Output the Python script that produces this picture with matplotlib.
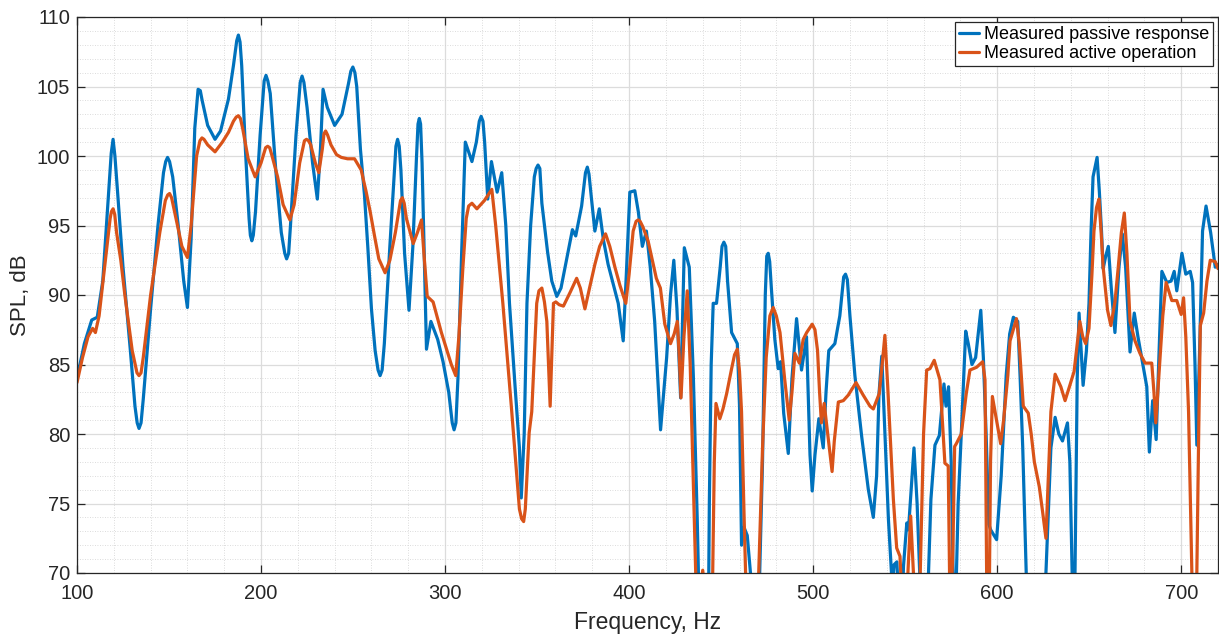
import matplotlib
matplotlib.use("Agg")
import matplotlib.pyplot as plt
import numpy as np
from matplotlib.ticker import MultipleLocator

plt.rcParams['font.family'] = ['Liberation Sans', 'DejaVu Sans']

passive_f = [100, 104, 108, 111, 114, 117, 119.6, 122, 125, 129, 131.5, 133.7, 136, 140, 144, 147, 149.2,
             152, 155, 158, 160, 162, 164, 165.8, 168, 171, 175, 178, 182.3, 185, 187.7, 189.5, 191.5,
             193.5, 195, 197, 199.5, 202.7, 205, 208, 211, 213.9, 216, 219, 222.3, 225, 228, 230.6,
             232.3, 233.7, 236, 240, 244, 247.5, 249.9, 252, 254, 256.2, 258, 260, 262, 264.7, 267, 270,
             272.5, 274.2, 276, 278, 280.4, 282.5, 284.5, 286, 287.5, 289, 289.9, 292.3, 296, 298.9, 302,
             304.9, 307, 309, 311, 314.6, 317, 319.6, 321.5, 323.2, 325.2, 328.3, 330.8, 333, 335, 338,
             340.4, 341.4, 343, 344.5, 346.5, 348.5, 350.5, 352.6, 355.7, 358, 360.7, 363, 365.2, 369.2,
             371, 374.2, 377.3, 379.5, 381.4, 383.8, 386, 388.6, 394.1, 396.8, 398.5, 400.4, 403.1, 405,
             407.2, 409.4, 411.5, 413.9, 417.1, 420.4, 422.5, 424.3, 426, 428, 429, 430, 432.7, 434.9, 437,
             438.5, 443, 443.6, 444.6, 445.7, 447.5, 449.5, 451.5, 453.5, 455.7, 458.8, 460, 461.1, 462.4,
             464.2, 466.6, 470, 472.5, 474, 475.6, 477.3, 479.2, 481, 482.3, 484, 486.5, 488.5, 491, 493.7,
             496.4, 498.3, 499.5, 501, 503.1, 505.5, 507, 508.5, 511.8, 514.5, 517.6, 520, 522.7, 526.4,
             530, 532.7, 534.5, 535.8, 537.3, 539, 540.9, 543, 544, 545.5, 546.5, 548, 549.1, 550.9, 551.8,
             553.5, 554.8, 556.5, 558.2, 560, 562.7, 564, 566.2, 568.6, 571.1, 572.2, 573.6, 575, 576.2, 577.5,
             578.8, 580.5, 582.9, 584.3, 586.3, 588.3, 591.1, 592.5, 594, 595.5, 596.5, 599.7, 602.2, 604.9,
             606.8, 608.8, 611.2, 612.5, 613.9, 616, 618, 625, 626.5, 629.2, 631.5, 633.5, 635.5, 638.2,
             639.5, 640.9, 642.3, 643.5, 644.5, 646.7, 648.5, 649.9, 651, 652.1, 654.3, 655.5, 656.7, 657.6,
             659, 660.4, 662, 664, 666.2, 668, 669.8, 672.2, 674.5, 676.5, 678.5, 681.3, 682.7, 684.5,
             686.4, 688, 689.5, 692.2, 694.5, 696.2, 697.6, 700.4, 702.5, 704.9, 706.2, 707.5, 708.5, 710,
             711.6, 713.5, 716, 718.5, 720,
             # extra readings around rounded peaks and troughs
             118.6, 120.6, 132.7, 134.8, 148.2, 150.3, 167.0, 186.8, 188.6, 194.2, 195.8, 201.7, 203.7,
             212.9, 215.0, 221.3, 223.3, 248.8, 251.0, 263.6, 265.8, 273.3, 275.1, 285.3, 286.7, 303.9,
             305.9, 318.6, 320.6, 349.5, 351.5, 376.3, 378.2, 450.5, 452.5, 474.8, 476.4, 516.6, 518.6]
passive_spl = [84.0, 86.5, 88.2, 88.4, 91.0, 97.0, 101.2, 97.5, 92.0, 86.0, 82.0, 80.4, 82.5, 89.0, 95.0, 98.8, 99.9,
               98.5, 95.0, 91.0, 89.1, 94.0, 102.0, 104.8, 104.0, 102.2, 101.2, 101.8, 104.1, 106.5, 108.7, 106.5, 100.5,
               95.5, 93.9, 96.0, 101.5, 105.8, 104.5, 99.0, 94.5, 92.6, 95.0, 101.5, 105.75, 103.5, 99.5, 96.9,
               100.5, 104.8, 103.5, 102.2, 103.0, 105.2, 106.4, 105.0, 100.5, 97.2, 93.5, 89.0, 86.0, 84.2, 86.5, 93.5,
               99.0, 101.2, 99.0, 93.0, 88.9, 93.5, 100.0, 102.7, 99.5, 91.0, 86.1, 88.1, 86.8, 85.2, 83.0,
               80.3, 84.0, 93.0, 101.0, 99.6, 101.0, 102.85, 101.0, 96.9, 99.6, 97.4, 98.8, 95.0, 89.4, 83.5,
               79.0, 75.4, 80.0, 89.4, 95.0, 98.5, 99.35, 96.6, 93.1, 91.0, 89.9, 90.5, 92.0, 94.7,
               94.25, 96.4, 99.2, 97.0, 94.6, 96.2, 94.0, 92.2, 89.4, 86.7, 91.5, 97.4, 97.5, 96.0,
               93.5, 94.6, 92.0, 88.1, 80.3, 85.5, 90.0, 92.5, 89.0, 82.6, 88.0, 93.4, 92.0, 84.2, 74.0,
               65.0, 65.0, 75.0, 85.0, 89.4, 89.4, 92.0, 93.8, 91.0, 87.3, 86.5, 82.0, 72.0, 73.3,
               72.7, 69.0, 65.0, 78.0, 90.0, 93.0, 90.5, 86.8, 84.7, 85.2, 81.5, 78.6, 84.0, 88.3, 84.6,
               87.0, 78.5, 75.9, 78.5, 81.1, 79.0, 83.0, 86.0, 86.5, 88.5, 91.5, 88.5, 84.2, 79.8,
               76.0, 74.0, 77.0, 82.9, 85.6, 80.0, 73.9, 69.0, 70.6, 70.8, 68.0, 66.0, 70.5, 73.6, 73.1,
               76.5, 79.0, 75.0, 69.0, 64.0, 70.0, 75.3, 79.2, 79.9, 83.6, 82.0, 83.4, 78.0, 69.0, 68.0,
               75.0, 80.0, 87.4, 86.5, 85.0, 85.5, 88.9, 85.5, 80.0, 73.5, 73.1, 72.4, 77.0, 84.2,
               87.2, 88.4, 88.1, 84.0, 79.0, 69.0, 64.0, 64.0, 70.0, 79.0, 81.2, 80.0, 79.5, 80.8,
               78.0, 69.0, 70.0, 84.0, 88.7, 83.5, 86.0, 89.4, 94.5, 98.5, 99.9, 97.5, 94.6, 91.9,
               92.8, 93.5, 90.5, 87.3, 92.0, 94.4, 92.0, 85.9, 88.7, 87.0, 85.5, 83.4, 78.7, 82.4,
               79.6, 86.0, 91.7, 90.9, 91.0, 91.7, 90.3, 93.0, 91.5, 91.7, 90.9, 85.0, 79.2, 86.0,
               94.6, 96.4, 94.5, 92.0, 92.2,
               100.2, 100.0, 80.8, 80.8, 99.6, 99.6, 104.7, 108.3, 108.2, 94.3, 94.3, 105.4, 105.4,
               93.0, 93.0, 105.3, 105.3, 106.1, 106.0, 84.6, 84.6, 100.7, 100.7, 102.3, 102.3, 80.8,
               80.8, 102.5, 102.5, 99.1, 99.1, 98.8, 98.7, 93.5, 93.5, 92.8, 92.4, 91.3, 91.1]

# Measured active operation (frequency Hz, SPL dB)
active_f = [100, 103, 106, 108.5, 110, 112, 115, 118, 119.6, 121.5, 123.8, 126, 130, 133.7, 136, 140, 145, 148,
            150.3, 153, 157, 160, 162, 165, 167.9, 171, 175, 179, 182.3, 185, 187.7, 190, 193, 196.8, 200,
            203.6, 206, 209, 212, 215.7, 218, 221, 224.7, 227, 229.5, 231.4, 233.3, 235.1, 238, 241, 243.6,
            247, 250.8, 254.4, 257, 259.3, 261.6, 264, 267.4, 270, 273, 276.8, 279, 282.7, 285, 287.2,
            288.5, 290.3, 293.5, 298, 303.4, 305.8, 307.5, 309.7, 311.5, 312.8, 314.6, 317.3, 321.4, 325.4,
            327.5, 331.4, 336, 340.4, 342.7, 344.5, 345.7, 347.1, 349.8, 351, 352.6, 354, 355.3, 357.1,
            358.9, 360.2, 362, 364.3, 368, 371.5, 373.5, 376, 378.5, 381.4, 384, 387.2, 389.5, 392.3, 395,
            398.2, 400, 402.2, 404.9, 407.5, 410.3, 414.8, 417, 419.4, 422.5, 424.5, 426.2, 427.3, 428.2,
            429.8, 431.6, 433.2, 434.9, 437, 439, 440, 441, 443, 445, 446.3, 447.2, 449.3, 451, 453, 455.7,
            457.3, 458.8, 460, 461.1, 462.5, 463.5, 467, 470.2, 472.5, 474.5, 476.5, 478.3, 480, 482, 484.5,
            487, 488.5, 490.1, 492.5, 494.6, 496.5, 499.5, 501, 502.4, 503.5, 504.5, 506, 507.5, 510.3, 511.5,
            513.7, 516.4, 519.1, 523.3, 527.2, 530.9, 532.7, 535.9, 537.5, 539.0, 540.5, 543.6, 545.4, 547.2,
            549, 551.5, 553, 554.5, 556.5, 558.2, 560, 561.7, 563.5, 565.8, 568.9, 571.6, 573.4, 574.5, 576,
            576.9, 577.8, 580.5, 583.2, 585.2, 588.8, 592.1, 593.4, 594.4, 595.5, 596.4, 597.4, 599,
            601.9, 603.5, 605.8, 607.0, 610.5, 612, 614.2, 616.9, 618.5, 620.2, 622.9, 624.7, 626.5, 628,
            629.2, 631.5, 634.6, 636.9, 639.5, 641.8, 643.5, 644.9, 646.5, 648.1, 649.9, 651.5, 652.6, 654,
            655.3, 656.5, 657.6, 660, 661.8, 664, 665.8, 667.5, 669.1, 670.5, 672.2, 674.9, 677.6, 680.4,
            684, 685.2, 686.2, 687.3, 688.5, 690, 691.8, 694.9, 697.6, 700, 701.3, 702.5, 704, 705.8, 707,
            708.5, 709.5, 710.4, 712.2, 714, 715.8, 718.5, 720,
            # extra readings around rounded peaks and troughs
            118.7, 120.5, 132.6, 134.8, 149.3, 151.4, 166.8, 169.0, 186.5, 188.8, 202.5, 204.7, 223.6,
            225.8, 234.2, 236.2, 275.8, 277.8, 341.6, 343.6, 403.8, 406.0]
active_spl = [83.7, 85.5, 87.0, 87.6, 87.3, 88.5, 92.0, 95.5, 96.2, 94.5, 92.5, 90.0, 86.0, 84.2, 85.5, 90.0, 94.5, 96.8,
              97.3, 96.0, 93.5, 92.7, 95.0, 100.0, 101.3, 100.8, 100.3, 101.0, 101.7, 102.5, 102.9, 102.0, 99.8, 98.5, 99.5,
              100.7, 100.0, 98.5, 96.5, 95.4, 96.5, 99.5, 101.2, 100.8, 99.5, 98.8, 100.5, 101.8, 100.8, 100.1, 99.9,
              99.8, 99.8, 99.0, 97.5, 96.0, 94.3, 92.6, 91.6, 92.5, 94.5, 97.0, 95.5, 93.7, 94.5, 95.4,
              93.0, 89.9, 89.5, 87.3, 85.0, 84.2, 87.0, 92.0, 95.5, 96.4, 96.6, 96.2, 96.8, 97.6,
              95.0, 89.4, 82.0, 74.6, 73.7, 77.0, 80.1, 81.6, 89.4, 90.3, 90.5, 89.5, 88.1, 82.0,
              89.4, 89.5, 89.3, 89.2, 90.2, 91.2, 90.5, 89.0, 90.5, 92.2, 93.5, 94.4, 93.5, 92.0, 90.7,
              89.4, 91.5, 94.6, 95.4, 94.9, 93.9, 91.2, 90.5, 87.9, 86.5, 87.2, 88.1, 85.5, 82.6,
              87.0, 90.3, 85.0, 76.4, 66.0, 69.0, 70.2, 69.0, 64.0, 66.0, 78.0, 82.2, 81.1, 81.8, 82.9, 84.7,
              85.7, 86.1, 84.5, 81.6, 74.0, 69.0, 63.0, 69.0, 79.0, 85.5, 88.5, 89.1, 88.5, 87.3, 84.0,
              81.0, 83.0, 85.8, 85.1, 86.8, 87.3, 87.9, 87.5, 86.0, 83.0, 80.8, 82.2, 80.5, 77.3, 79.5,
              82.3, 82.4, 82.8, 83.7, 82.8, 82.0, 81.8, 82.9, 85.0, 87.1, 83.5, 75.3, 71.8, 71.2,
              66.0, 70.0, 74.1, 70.0, 66.0, 70.0, 80.0, 84.6, 84.7, 85.3, 83.9, 77.9, 77.7, 66.0, 72.0,
              79.1, 79.3, 80.0, 82.9, 84.6, 84.8, 85.2, 83.9, 68.0, 65.0, 78.0, 82.7, 81.5,
              79.3, 81.0, 84.2, 86.7, 88.3, 86.5, 82.0, 81.5, 80.0, 78.0, 76.2, 74.4, 72.5, 77.5,
              81.6, 84.3, 83.4, 82.4, 83.5, 84.5, 86.5, 88.1, 87.0, 86.5, 87.6, 91.5, 94.6, 96.3,
              96.9, 94.5, 92.0, 88.9, 87.8, 89.5, 92.0, 94.5, 95.9, 93.0, 88.1, 86.7, 85.8, 85.1,
              85.1, 83.0, 80.8, 83.0, 85.5, 88.5, 90.9, 89.6, 89.6, 88.6, 89.8, 87.0, 81.6, 70.0, 63.0,
              70.0, 80.0, 87.8, 88.7, 91.0, 92.5, 92.4, 91.9,
              96.0, 95.8, 84.4, 84.4, 97.2, 97.0, 101.1, 101.2, 102.8, 102.7, 100.6, 100.6, 101.1,
              101.1, 101.6, 101.5, 96.8, 96.6, 73.9, 74.6, 95.3, 95.3]

series_labels = ['Measured passive response', 'Measured active operation']


def ordered(f, v):
    idx = np.argsort(f, kind='stable')
    return np.asarray(f)[idx], np.asarray(v)[idx]


W, H = 1219, 637
fig = plt.figure(figsize=(W / 100, H / 100), dpi=100)
ax = fig.add_axes([77 / W, 1 - 573 / H, (1218 - 77) / W, (573 - 17) / H])

pf, pv = ordered(passive_f, passive_spl)
af, av = ordered(active_f, active_spl)
ax.plot(pf, pv, color='#0072BD', lw=2.3, label=series_labels[0],
        solid_joinstyle='round', solid_capstyle='round')
ax.plot(af, av, color='#D95319', lw=2.3, label=series_labels[1],
        solid_joinstyle='round', solid_capstyle='round')

ax.set_xlim(100, 720)
ax.set_ylim(70, 110)
ax.xaxis.set_major_locator(MultipleLocator(100))
ax.xaxis.set_minor_locator(MultipleLocator(20))
ax.yaxis.set_major_locator(MultipleLocator(5))
ax.yaxis.set_minor_locator(MultipleLocator(1))

ax.grid(True, which='major', color='#dcdcdc', lw=0.9, ls='-')
ax.grid(True, which='minor', color='#d0d0d0', lw=0.6, ls=(0, (1, 2)))
ax.set_axisbelow(True)

for s in ax.spines.values():
    s.set_color('#262626')
    s.set_linewidth(0.9)
ax.tick_params(which='major', direction='in', length=6, width=0.9, top=True, right=True,
               labelsize=14.5, colors='#262626')
ax.tick_params(axis='x', which='major', pad=8)
ax.tick_params(axis='y', which='major', pad=5)
ax.tick_params(which='minor', length=0, top=True, right=True)

ax.set_xlabel('Frequency, Hz', fontsize=16.5, color='#262626', labelpad=6)
ax.set_ylabel('SPL, dB', fontsize=16, color='#262626', labelpad=4)

leg = ax.legend(loc='upper right', fontsize=13, frameon=True, fancybox=False, framealpha=1,
                edgecolor='#262626', handlelength=1.1, handletextpad=0.25, borderpad=0.25,
                labelspacing=0.1, borderaxespad=0.25)
leg.get_frame().set_linewidth(0.9)

fig.savefig('out.png', dpi=100)
